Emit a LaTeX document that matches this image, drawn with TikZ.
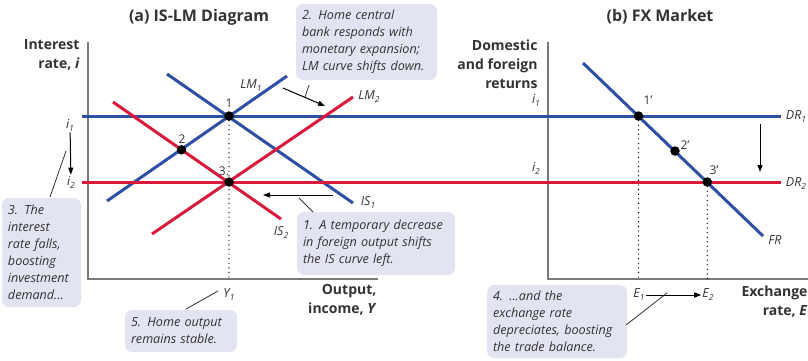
\documentclass[tikz,border=0pt]{standalone}
\usepackage{fontspec}
\setmainfont{Open Sans}
\usetikzlibrary{arrows.meta}
\definecolor{cblue}{HTML}{2E4FA3}
\definecolor{cred}{HTML}{D91A3C}
\definecolor{boxfill}{HTML}{E3E4F1}
\definecolor{txt}{HTML}{333333}
\definecolor{axisgray}{HTML}{7A7A7A}
\newcommand\lsub[1]{\raisebox{-0.45ex}{\fontsize{8.5}{8.5}\selectfont #1}}
\begin{document}
\begin{tikzpicture}[x=1pt,y=-1pt,
 bline/.style={cblue,line width=3pt},
 rline/.style={cred,line width=3pt},
 axisline/.style={axisgray,line width=1.6pt},
 dotline/.style={black,line width=1.4pt,line cap=round,dash pattern=on 0pt off 4.6pt},
 eqdot/.style={circle,fill=black,inner sep=0pt,minimum size=9.5pt},
 callout/.style={fill=boxfill,rounded corners=7pt,align=left,font=\fontsize{12.6}{17}\selectfont\itshape,text=txt,inner xsep=6pt,inner ysep=0pt},
 pointer/.style={txt,line width=0.8pt},
 shiftarrow/.style={black,line width=1pt,-{Triangle[length=7pt,width=5pt]}},
 title/.style={font=\fontsize{16}{19}\selectfont\bfseries,text=txt},
 axislabel/.style={font=\fontsize{14}{19}\selectfont\bfseries,text=txt,align=right},
 ptlabel/.style={font=\fontsize{12}{14}\selectfont,text=txt,inner sep=1pt},
 curvelabel/.style={font=\fontsize{12.5}{14}\selectfont\itshape,text=txt,inner sep=1pt}
]
\useasboundingbox[fill=white] (0,0) rectangle (808,360);

% titles
\node[title] (ta) at (199,17) {(a) IS-LM Diagram};
\node[title] (tb) at (660,17) {(b) FX Market};

% axes
\coordinate (aTop) at (88,42);
\coordinate (aOrig) at (88,279);
\coordinate (aRight) at (378,279);
\draw[axisline] (aTop) -- (aOrig) -- (aRight);
\coordinate (bTop) at (548,42);
\coordinate (bOrig) at (548,279);
\coordinate (bRight) at (808,279);
\draw[axisline] (bTop) -- (bOrig) -- (bRight);

% axis labels
\node[axislabel,anchor=north east] (ylabA) at (83,36) {Interest\\rate, \textit{i}};
\node[axislabel,anchor=north east] (ylabB) at (541,36) {Domestic\\and foreign\\returns};
\node[axislabel,anchor=north east] (xlabA) at (380,281) {Output,\\income, \textit{Y}};
\node[axislabel,anchor=north east] (xlabB) at (811,282) {Exchange\\rate, \textit{E}};

% key points
\coordinate (P1) at (229,116);
\coordinate (P2) at (181.5,149.8);
\coordinate (P3) at (229,182);
\coordinate (Q1) at (638.5,116);
\coordinate (Q2) at (675,151);
\coordinate (Q3) at (707.3,182);

% dotted guides
\coordinate (Y1foot) at (229,279);
\coordinate (E1foot) at (638.5,279);
\coordinate (E2foot) at (707.3,279);
\draw[dotline] (P1) -- (Y1foot);
\draw[dotline] (Q1) -- (E1foot);
\draw[dotline] (Q3) -- (E2foot);

% horizontal interest lines
\coordinate (i1L) at (82,116);
\coordinate (i1R) at (781,116);
\coordinate (i2L) at (82,182);
\coordinate (i2R) at (781,182);
\draw[bline] (i1L) -- (i1R);

% curves
\coordinate (LM1a) at (107,201);
\coordinate (LM1b) at (287,76);
\coordinate (IS1a) at (167,74);
\coordinate (IS1b) at (353,203);
\coordinate (IS2a) at (113,102);
\coordinate (IS2b) at (281,219);
\coordinate (LM2a) at (152,234);
\coordinate (LM2b) at (353,97);
\coordinate (FRa) at (583,63);
\coordinate (FRb) at (763,236);
\draw[bline] (LM1a) -- (LM1b);
\draw[bline] (IS1a) -- (IS1b);
\draw[bline] (FRa) -- (FRb);
\draw[rline] (i2L) -- (i2R);
\draw[rline] (IS2a) -- (IS2b);
\draw[rline] (LM2a) -- (LM2b);

% equilibrium dots
\node[eqdot] (d1) at (P1) {};
\node[eqdot] (d2) at (P2) {};
\node[eqdot] (d3) at (P3) {};
\node[eqdot] (e1) at (Q1) {};
\node[eqdot] (e2) at (Q2) {};
\node[eqdot] (e3) at (Q3) {};

% point labels
\node[ptlabel] (l1) at (229,103) {1};
\node[ptlabel] (l2) at (182,139) {2};
\node[ptlabel] (l3) at (224,171) {3.};
\node[ptlabel] (m1) at (648,100) {1’};
\node[ptlabel] (m2) at (685,145) {2’};
\node[ptlabel] (m3) at (714,170) {3’};

% curve labels
\node[curvelabel] (tLM1) at (251,86) {\textit{LM}\lsub{1}};
\node[curvelabel] (tLM2) at (369,97) {\textit{LM}\lsub{2}};
\node[curvelabel] (tIS1) at (368,202) {\textit{IS}\lsub{1}};
\node[curvelabel] (tIS2) at (281,232) {\textit{IS}\lsub{2}};
\node[curvelabel] (tDR1) at (796,117) {\textit{DR}\lsub{1}};
\node[curvelabel] (tDR2) at (796,184) {\textit{DR}\lsub{2}};
\node[curvelabel] (tFR) at (775,240) {\textit{FR}};
\node[curvelabel] (ti1a) at (70,125) {\textit{i}\lsub{1}};
\node[curvelabel] (ti2a) at (71,182) {\textit{i}\lsub{2}};
\node[curvelabel] (ti1b) at (536,100) {\textit{i}\lsub{1}};
\node[curvelabel] (ti2b) at (536,168) {\textit{i}\lsub{2}};
\node[curvelabel] (tY1) at (229,295) {\textit{Y}\lsub{1}};
\node[curvelabel] (tE1) at (639,295) {\textit{E}\lsub{1}};
\node[curvelabel] (tE2) at (708,295) {\textit{E}\lsub{2}};

% shift arrows
\draw[shiftarrow] (283,88) -- (325,106);
\draw[shiftarrow] (333,195) -- (263,195);
\draw[shiftarrow] (ti1a) -- (ti2a);
\draw[shiftarrow] (760,124) -- (760,172);
\draw[shiftarrow] (tE1) -- (tE2);

% callouts
\node[callout,text width=129pt,minimum height=76pt] (c2) at (366.5,42)
 {2. Home central\\bank responds with\\monetary expansion;\\LM curve shifts down.};
\node[callout,text width=146pt,minimum height=63pt] (c1) at (376,243.5)
 {1. A temporary decrease\\in foreign output shifts\\the IS curve left.};
\node[callout,text width=67pt,minimum height=109pt] (c3) at (41.5,252.5)
 {3. The\\interest\\rate falls,\\boosting\\investment\\demand...};
\node[callout,text width=100pt,minimum height=42pt] (c5) at (181,331)
 {5. Home output\\remains stable.};
\node[callout,text width=128pt,minimum height=73pt] (c4) at (557,321.5)
 {4. ...and the\\exchange rate\\depreciates, boosting\\the trade balance.};

% pointers
\coordinate (k2a) at (305,97); \coordinate (k2b) at (309,85);
\coordinate (k3a) at (50,197); \coordinate (k3b) at (66,151);
\coordinate (k1a) at (313,212); \coordinate (k1b) at (299,198);
\coordinate (k5a) at (186,309); \coordinate (k5b) at (218,291);
\coordinate (k4a) at (626,325); \coordinate (k4b) at (667,293);
\draw[pointer] (k2a) -- (k2b);
\draw[pointer] (k3a) -- (k3b);
\draw[pointer] (k1a) -- (k1b);
\draw[pointer] (k5a) -- (k5b);
\draw[pointer] (k4a) -- (k4b);
\end{tikzpicture}
\end{document}
